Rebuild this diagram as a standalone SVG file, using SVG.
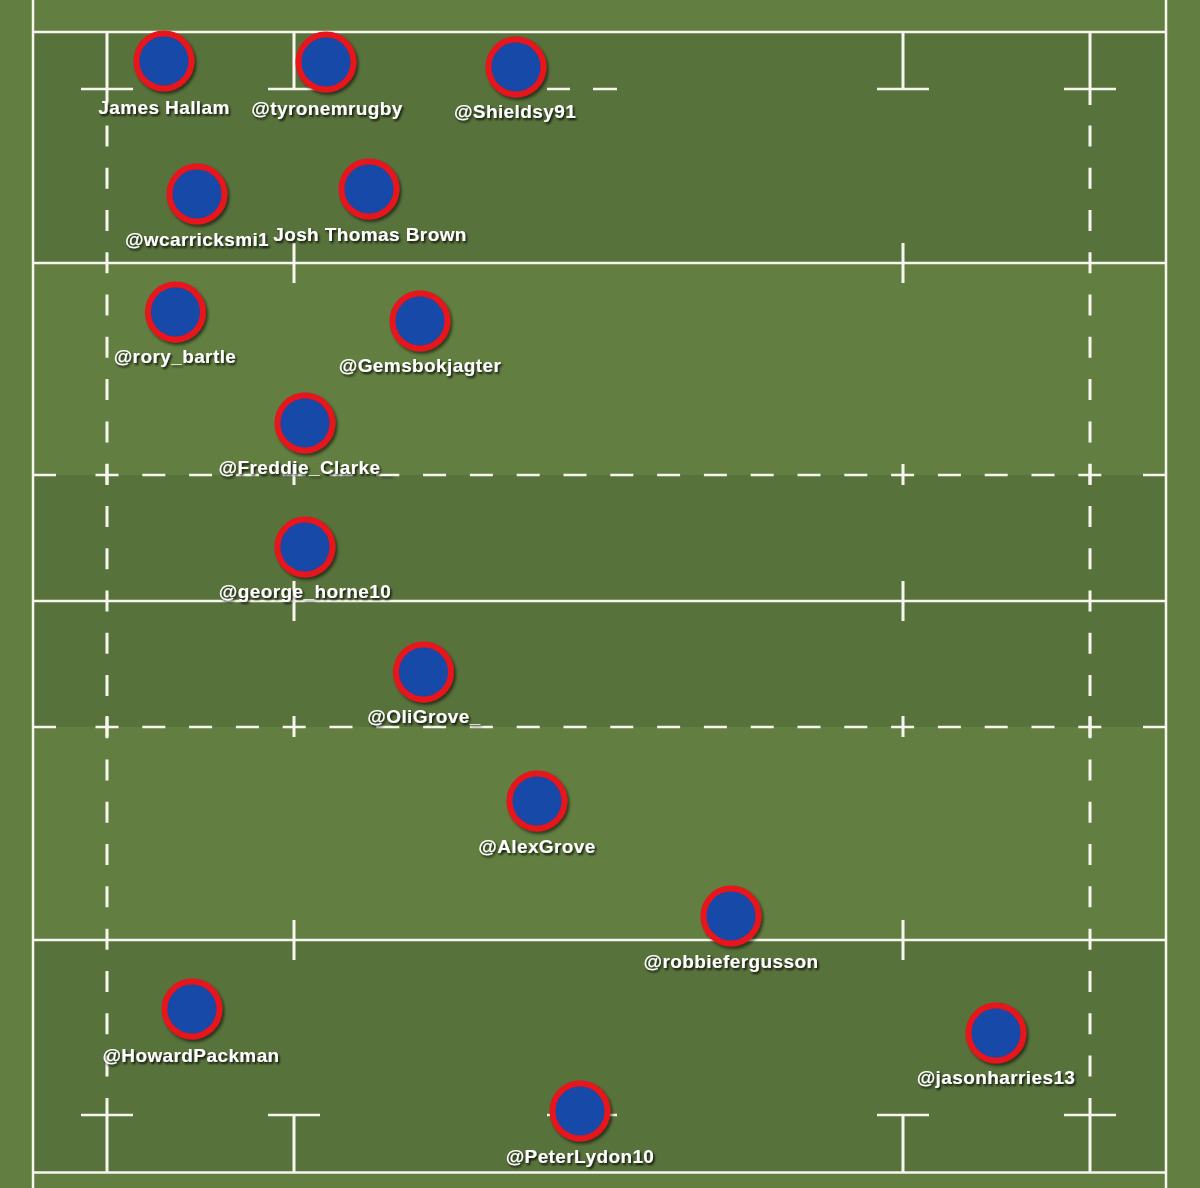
<svg xmlns="http://www.w3.org/2000/svg" width="1200" height="1188" viewBox="0 0 1200 1188">
<defs>
<filter id="ds" x="-30%" y="-30%" width="170%" height="170%">
<feDropShadow dx="2" dy="2.5" stdDeviation="1.5" flood-color="#000" flood-opacity="0.55"/>
</filter>
<filter id="ts" x="-10%" y="-40%" width="120%" height="190%">
<feDropShadow dx="1.5" dy="2" stdDeviation="1" flood-color="#000" flood-opacity="0.85"/>
</filter>
</defs>
<style>
.ln{stroke:#f6f6ee;stroke-width:2.5;fill:none}
.vl{stroke:#f6f6ee;stroke-width:3;fill:none}
.dh{stroke:#f6f6ee;stroke-width:2.5;fill:none;stroke-dasharray:23 23.8}
.dv{stroke:#f6f6ee;stroke-width:3;fill:none;stroke-dasharray:21 21.27}
.dark{fill:#58723c}
.p circle{fill:#1549a8;stroke:#e6121b;stroke-width:6;filter:url(#ds)}
.p text{font-family:"Liberation Sans",Arial,sans-serif;font-weight:bold;font-size:19px;letter-spacing:0.4px;fill:#fff;text-anchor:middle;filter:url(#ts)}
</style>
<g id="pitch">
<rect x="0" y="0" width="1200" height="1188" fill="#627f41"/>
<rect class="dark" x="33" y="32" width="1133" height="231"/>
<rect class="dark" x="33" y="475" width="1133" height="252"/>
<rect class="dark" x="33" y="940" width="1133" height="233"/>
<!-- touchlines -->
<line class="ln" x1="33" y1="0" x2="33" y2="1188"/>
<line class="ln" x1="1166" y1="0" x2="1166" y2="1188"/>
<!-- solid horizontal lines -->
<line class="ln" x1="33" y1="32" x2="1166" y2="32"/>
<line class="ln" x1="33" y1="263" x2="1166" y2="263"/>
<line class="ln" x1="33" y1="601" x2="1166" y2="601"/>
<line class="ln" x1="33" y1="940" x2="1166" y2="940"/>
<line class="ln" x1="33" y1="1172.5" x2="1166" y2="1172.5"/>
<!-- 10m dashed lines -->
<line class="dh" x1="95.5" y1="475" x2="1101.5" y2="475"/>
<line class="ln" x1="33" y1="475" x2="56" y2="475"/>
<line class="ln" x1="1143" y1="475" x2="1166" y2="475"/>
<line class="dh" x1="95.5" y1="727" x2="1101.5" y2="727"/>
<line class="ln" x1="33" y1="727" x2="56" y2="727"/>
<line class="ln" x1="1143" y1="727" x2="1166" y2="727"/>
<!-- 5m / 15m dashed verticals -->
<line class="dv" x1="107" y1="125.5" x2="107" y2="1077"/>
<line class="dv" x1="1090" y1="125.5" x2="1090" y2="1077"/>
<line class="vl" x1="107" y1="32" x2="107" y2="105"/>
<line class="vl" x1="1090" y1="32" x2="1090" y2="105"/>
<line class="vl" x1="107" y1="1098" x2="107" y2="1172"/>
<line class="vl" x1="1090" y1="1098" x2="1090" y2="1172"/>
<!-- top T marks -->
<line class="vl" x1="294" y1="32" x2="294" y2="89"/>
<line class="vl" x1="903" y1="32" x2="903" y2="89"/>
<line class="ln" x1="81" y1="89" x2="133" y2="89"/>
<line class="ln" x1="268" y1="89" x2="320" y2="89"/>
<line class="ln" x1="877" y1="89" x2="929" y2="89"/>
<line class="ln" x1="1064" y1="89" x2="1116" y2="89"/>
<line class="ln" x1="547" y1="89" x2="570" y2="89"/>
<line class="ln" x1="593" y1="89" x2="617" y2="89"/>
<!-- bottom T marks -->
<line class="vl" x1="294" y1="1115" x2="294" y2="1172"/>
<line class="vl" x1="903" y1="1115" x2="903" y2="1172"/>
<line class="ln" x1="81" y1="1115" x2="133" y2="1115"/>
<line class="ln" x1="268" y1="1115" x2="320" y2="1115"/>
<line class="ln" x1="877" y1="1115" x2="929" y2="1115"/>
<line class="ln" x1="1064" y1="1115" x2="1116" y2="1115"/>
<line class="ln" x1="547" y1="1115" x2="570" y2="1115"/>
<line class="ln" x1="593" y1="1115" x2="617" y2="1115"/>
<!-- ticks on 22m and halfway -->
<line class="vl" x1="294" y1="243" x2="294" y2="283"/>
<line class="vl" x1="903" y1="243" x2="903" y2="283"/>
<line class="vl" x1="294" y1="581" x2="294" y2="621"/>
<line class="vl" x1="903" y1="581" x2="903" y2="621"/>
<line class="vl" x1="294" y1="920" x2="294" y2="960"/>
<line class="vl" x1="903" y1="920" x2="903" y2="960"/>
<!-- crosses on 10m lines -->
<line class="vl" x1="107" y1="464" x2="107" y2="485"/>
<line class="vl" x1="294" y1="464" x2="294" y2="485"/>
<line class="vl" x1="903" y1="464" x2="903" y2="485"/>
<line class="vl" x1="1090" y1="464" x2="1090" y2="485"/>
<line class="vl" x1="107" y1="716" x2="107" y2="737"/>
<line class="vl" x1="294" y1="716" x2="294" y2="737"/>
<line class="vl" x1="903" y1="716" x2="903" y2="737"/>
<line class="vl" x1="1090" y1="716" x2="1090" y2="737"/>
</g>
<g id="connectors"></g>
<g id="players">
<g id="p-james-hallam" class="p"><circle cx="164" cy="61" r="27.5"/><text x="164" y="114">James Hallam</text></g>
<g id="p-tyronemrugby" class="p"><circle cx="326" cy="62" r="27.5"/><text x="327" y="115">@tyronemrugby</text></g>
<g id="p-shieldsy91" class="p"><circle cx="516" cy="67" r="27.5"/><text x="515" y="118">@Shieldsy91</text></g>
<g id="p-wcarricksmi1" class="p"><circle cx="197" cy="194" r="27.5"/><text x="197" y="246">@wcarricksmi1</text></g>
<g id="p-josh-thomas-brown" class="p"><circle cx="369" cy="189" r="27.5"/><text x="370" y="241">Josh Thomas Brown</text></g>
<g id="p-rory-bartle" class="p"><circle cx="175.5" cy="312" r="27.5"/><text x="175" y="363">@rory_bartle</text></g>
<g id="p-gemsbokjagter" class="p"><circle cx="420" cy="321" r="27.5"/><text x="420" y="372">@Gemsbokjagter</text></g>
<g id="p-freddie-clarke" class="p"><circle cx="305" cy="423" r="27.5"/><text x="305" y="474">@Freddie_Clarke_</text></g>
<g id="p-george-horne10" class="p"><circle cx="305" cy="547" r="27.5"/><text x="305" y="598">@george_horne10</text></g>
<g id="p-oligrove" class="p"><circle cx="423.5" cy="672" r="27.5"/><text x="424" y="723">@OliGrove_</text></g>
<g id="p-alexgrove" class="p"><circle cx="537" cy="801" r="27.5"/><text x="537" y="853">@AlexGrove</text></g>
<g id="p-robbiefergusson" class="p"><circle cx="731" cy="916" r="27.5"/><text x="731" y="968">@robbiefergusson</text></g>
<g id="p-howardpackman" class="p"><circle cx="192" cy="1009" r="27.5"/><text x="191" y="1062">@HowardPackman</text></g>
<g id="p-jasonharries13" class="p"><circle cx="996" cy="1033" r="27.5"/><text x="996" y="1084">@jasonharries13</text></g>
<g id="p-peterlydon10" class="p"><circle cx="580" cy="1111" r="27.5"/><text x="580" y="1163">@PeterLydon10</text></g>
</g>
</svg>
